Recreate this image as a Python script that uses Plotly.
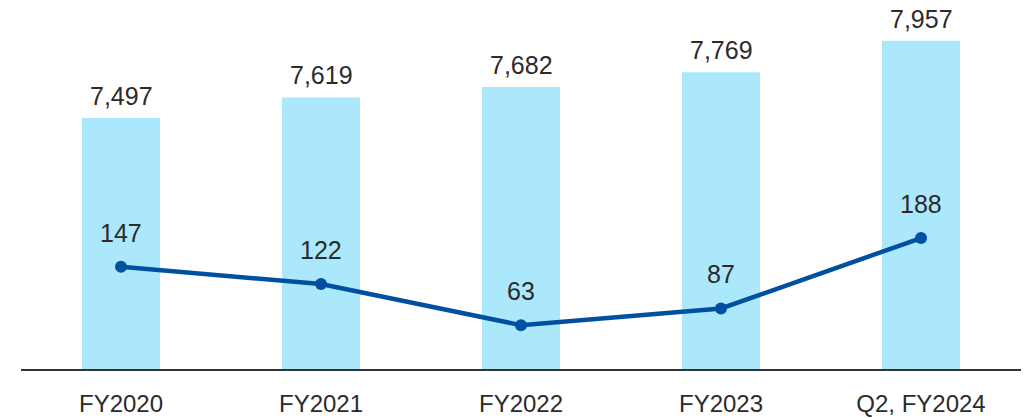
import plotly.graph_objects as go

categories = ["FY2020", "FY2021", "FY2022", "FY2023", "Q2, FY2024"]
bar_values = [7497, 7619, 7682, 7769, 7957]
line_values = [147, 122, 63, 87, 188]

BAR_COLOR = "rgb(172, 232, 252)"
LINE_COLOR = "rgb(0, 80, 162)"
TEXT_COLOR = "#2b2b2b"
FONT = "Liberation Sans, Arial, sans-serif"

fig = go.Figure()

# ---------------- bars ---------------- #
fig.add_trace(
    go.Bar(
        x=categories,
        y=bar_values,
        width=0.39,
        marker_color=BAR_COLOR,
        marker_line_width=0,
        showlegend=False,
    )
)

# ---------------- line on secondary axis ---------------- #
fig.add_trace(
    go.Scatter(
        x=categories,
        y=line_values,
        mode="lines+markers",
        line=dict(color=LINE_COLOR, width=4.5),
        marker=dict(color=LINE_COLOR, size=12),
        yaxis="y2",
        showlegend=False,
    )
)

annotations = []
for cat, val in zip(categories, bar_values):
    annotations.append(dict(
        x=cat, y=val, xref="x", yref="y", text=f"{val:,}",
        showarrow=False, yanchor="middle", yshift=22,
        font=dict(size=25, color=TEXT_COLOR, family=FONT),
    ))
for cat, val in zip(categories, line_values):
    annotations.append(dict(
        x=cat, y=val, xref="x", yref="y2", text=f"{val:,}",
        showarrow=False, yanchor="middle", yshift=34,
        font=dict(size=25, color=TEXT_COLOR, family=FONT),
    ))

fig.update_layout(
    width=1030,
    height=418,
    margin=dict(l=21, r=9, t=0, b=49),
    paper_bgcolor="white",
    plot_bgcolor="white",
    font=dict(family=FONT, color=TEXT_COLOR),
    annotations=annotations,
    xaxis=dict(
        showline=True,
        linecolor="#333333",
        linewidth=2,
        ticks="",
        showgrid=False,
        tickfont=dict(size=24, color=TEXT_COLOR, family=FONT),
        ticklabelstandoff=12,
    ),
    yaxis=dict(
        range=[6000, 8200],
        visible=False,
        showgrid=False,
    ),
    yaxis2=dict(
        range=[0, 530],
        overlaying="y",
        side="right",
        visible=False,
        showgrid=False,
    ),
)

# page body has a default 8px margin; drop it so the figure fills the window
fig.write_html(
    "out.html",
    config={"displayModeBar": False},
    post_script="document.body.style.margin = '0';",
)
